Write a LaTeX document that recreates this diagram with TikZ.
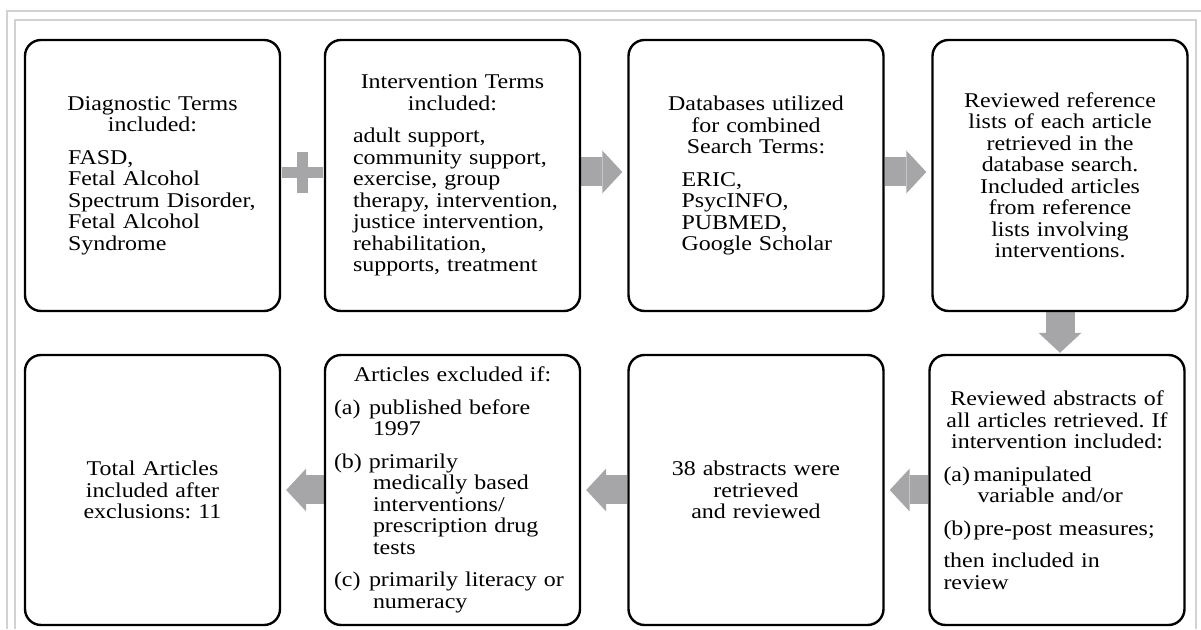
\documentclass[tikz,border=0pt]{standalone}
\usepackage{fontspec}
\setmainfont{Liberation Serif}[FakeStretch=1.14]
\usepackage{tikz}
\usetikzlibrary{arrows.meta,positioning,calc,backgrounds}
\definecolor{arrowgray}{HTML}{A6A6A8}
\definecolor{framegray}{HTML}{D2D2D2}
\newcommand{\itemlab}[2]{\makebox[#1][l]{#2}}
\frenchspacing

\begin{document}
\begin{tikzpicture}[x=1pt,y=1pt,
			stage/.style={draw=black,line width=2.4pt,rounded corners=16pt,fill=white,minimum width=255pt,minimum height=271pt,text width=237pt,inner xsep=9pt,inner ysep=0pt,align=left,font=\fontsize{21}{21.5}\selectfont,execute at begin node={\setlength{\parindent}{0pt}\setlength{\parskip}{11pt}}},
			blk/.style={arrowgray,line width=29pt,-{Triangle[length=20pt,width=43pt,line width=0pt]},shorten >=5pt},
			frame/.style={framegray,line width=1.5pt}
			]
			\useasboundingbox (0,0) rectangle (1201,629);
			\draw[frame] (7,0) -- (7,618) -- (1201,618);
			\draw[frame] (15,0) -- (15,609) -- (1196,609) -- (1196,0);
			\node[stage] (diagterms) at (152.5,453.5) {{\centering Diagnostic Terms\\included:\par}{\leftskip=34pt FASD,\\Fetal Alcohol\\Spectrum Disorder,\\Fetal Alcohol\\Syndrome\par}};
			\node[stage] (intterms) at (452.5,453.5) {{\centering Intervention Terms\\included:\par}{\leftskip=19pt adult support,\\community support,\\exercise, group\\therapy, intervention,\\justice intervention,\\rehabilitation,\\supports, treatment\par}};
			\node[stage] (databases) at (756,453.5) {{\centering Databases utilized\\for combined\\Search Terms:\par}{\leftskip=44pt ERIC,\\PsycINFO,\\PUBMED,\\Google Scholar\par}};
			\node[stage] (reflists) at (1060,453.5) {{\centering Reviewed reference\\lists of each article\\retrieved in the\\database search.\\Included articles\\from reference\\lists involving\\interventions.\par}};
			\node[stage,minimum height=270pt] (abstracts) at (1057,139) {{\centering Reviewed abstracts of\\all articles retrieved. If\\intervention included:\par}{\leftskip=5pt \itemlab{30pt}{(a)}manipulated\\\hspace*{34pt}variable and/or\par\itemlab{30pt}{(b)}pre-post measures;\par then included in\\review\par}};
			\node[stage,minimum height=270pt] (retrieved) at (756,139) {{\centering 38 abstracts were\\retrieved\\and reviewed\par}};
			\node[stage,minimum height=270pt] (excluded) at (452.5,139) {{\centering Articles excluded if:\par}\itemlab{35pt}{(a)}published before\\\hspace*{39pt}1997\par\itemlab{35pt}{(b)}primarily\\\hspace*{39pt}medically based\\\hspace*{39pt}interventions/\\\hspace*{39pt}prescription drug\\\hspace*{39pt}tests\par\itemlab{35pt}{(c)}primarily literacy or\\\hspace*{39pt}numeracy\par};
			\node[stage,minimum height=270pt] (total) at (152.5,139) {{\centering Total Articles\\included after\\exclusions: 11\par}};
			\coordinate (plus) at ($(diagterms.east)!0.5!(intterms.west)+(0,2.5)$);
			\fill[arrowgray] ([shift={(-20.5,-5.5)}]plus) rectangle ([shift={(20.5,5.5)}]plus);
			\fill[arrowgray] ([shift={(-5.5,-20.5)}]plus) rectangle ([shift={(5.5,20.5)}]plus);
			\begin{scope}[on background layer]
				\draw[blk] ([yshift=3.5pt]intterms.east) -- ([yshift=3.5pt]databases.west);
				\draw[blk] ([yshift=3.5pt]databases.east) -- ([yshift=3.5pt]reflists.west);
				\draw[blk,shorten >=1pt] (reflists.south) -- (reflists.south |- abstracts.north);
				\draw[blk] (abstracts.west) -- (retrieved.east);
				\draw[blk] (retrieved.west) -- (excluded.east);
				\draw[blk] (excluded.west) -- (total.east);
			\end{scope}
		\end{tikzpicture}
\end{document}
